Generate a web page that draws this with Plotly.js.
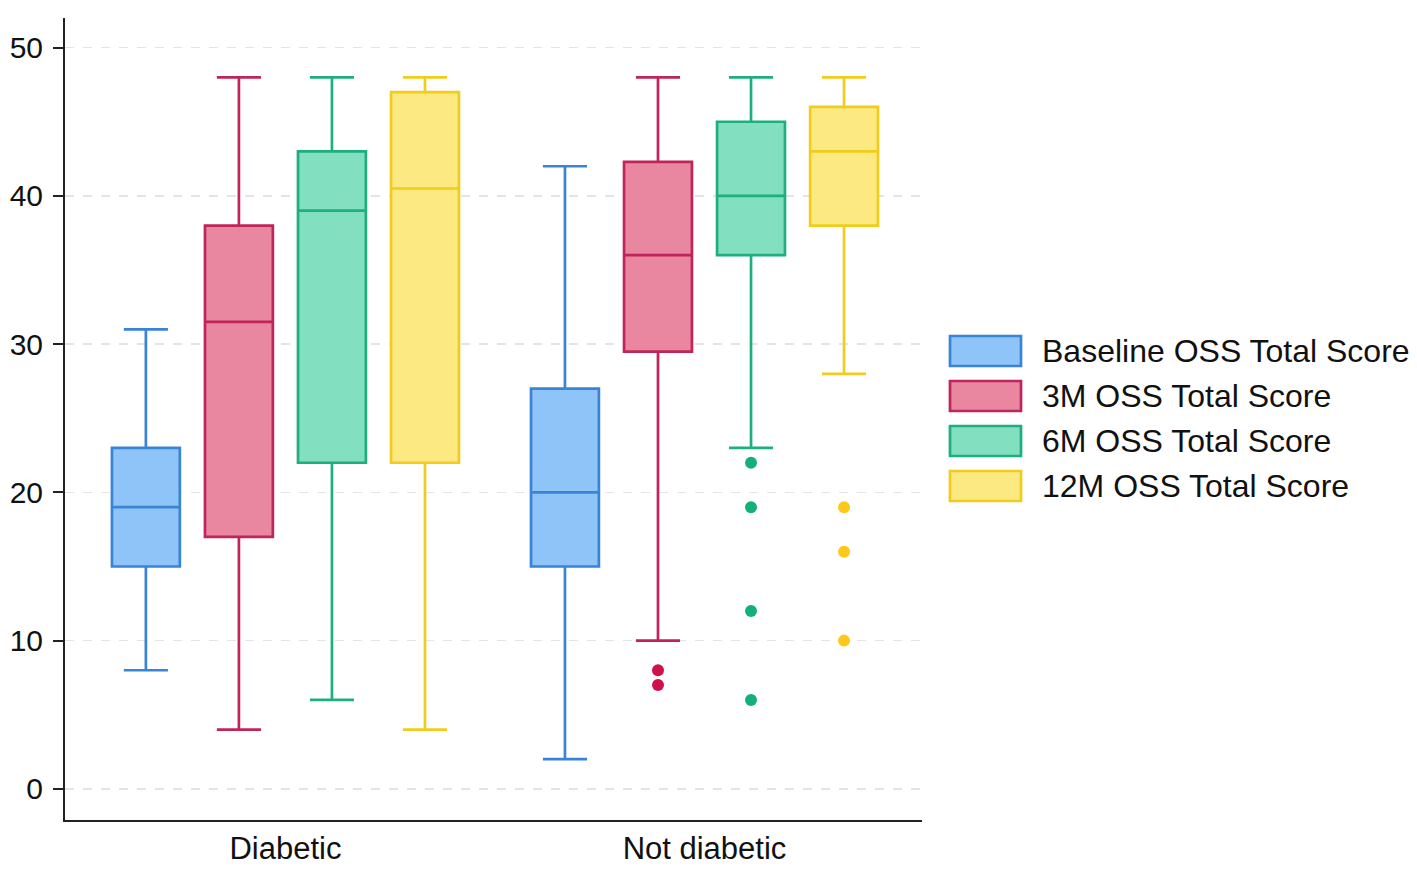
<!DOCTYPE html>
<html>
<head>
<meta charset="utf-8">
<script src="https://cdn.plot.ly/plotly-3.0.1.min.js"></script>
<style>body{margin:0;background:#fff}</style>
</head>
<body>
<div id="chart" style="width:1417px;height:871px"></div>
<script>
// data
var groups = ['Diabetic', 'Not diabetic'];
var series = ['Baseline OSS Total Score', '3M OSS Total Score', '6M OSS Total Score', '12M OSS Total Score'];
// each row is one series: [Diabetic, Not diabetic]
var lower  = [[8, 2],   [4, 10],    [6, 23],  [4, 28]];
var q1     = [[15, 15], [17, 29.5], [22, 36], [22, 38]];
var median = [[19, 20], [31.5, 36], [39, 40], [40.5, 43]];
var q3     = [[23, 27], [38, 42.3], [43, 45], [47, 46]];
var upper  = [[31, 42], [48, 48],   [48, 48], [48, 48]];
var outliers = [
    [[], []],
    [[], [8, 7]],
    [[], [22, 19, 12, 6]],
    [[], [19, 16, 10]]
];
var yticks = [0, 10, 20, 30, 40, 50];

// styles
var fills = ['#8fc4f8', '#e8879f', '#82dfc0', '#fde981'];
var lines = ['#3a84d8', '#c0245a', '#1fae80', '#f2cc1c'];
var dots  = ['#3a84d8', '#d0104a', '#14b077', '#fcc81a'];
var offsets = [-0.333, -0.111, 0.111, 0.333];
var boxWidth = 0.162;
var W = 1417, H = 871;
var M = {l: 65, r: 495, t: 18, b: 51};
var FONT = 'Liberation Sans, Arial, sans-serif';

var data = [];
for (var s = 0; s < series.length; s++) {
    var xs = [];
    for (var g = 0; g < groups.length; g++) xs.push(g + 1 + offsets[s]);
    data.push({
        type: 'box',
        name: series[s],
        x: xs,
        q1: q1[s],
        median: median[s],
        q3: q3[s],
        lowerfence: lower[s],
        upperfence: upper[s],
        width: boxWidth,
        whiskerwidth: 0.65,
        fillcolor: fills[s],
        line: {color: lines[s], width: 2.7},
        boxpoints: false,
        hoverinfo: 'y',
        showlegend: false
    });
    var ox = [], oy = [];
    for (var g = 0; g < groups.length; g++) {
        for (var k = 0; k < outliers[s][g].length; k++) {
            ox.push(g + 1 + offsets[s]);
            oy.push(outliers[s][g][k]);
        }
    }
    if (oy.length) {
        data.push({
            type: 'scatter', mode: 'markers',
            x: ox, y: oy,
            marker: {color: dots[s], size: 12},
            showlegend: false, hoverinfo: 'y'
        });
    }
}

// legend drawn as shapes + text (wide swatches like the original)
var pw = W - M.l - M.r, ph = H - M.t - M.b;
function px2x(px) { return (px - M.l) / pw; }
function px2y(py) { return (H - M.b - py) / ph; }
var shapes = [], annotations = [];
var legTop = 351, legStep = 45;
for (var s = 0; s < series.length; s++) {
    var cy = legTop + s * legStep;
    shapes.push({
        type: 'rect', xref: 'paper', yref: 'paper',
        x0: px2x(950), x1: px2x(1021), y0: px2y(cy + 15), y1: px2y(cy - 15),
        fillcolor: fills[s], line: {color: lines[s], width: 2.7}
    });
    annotations.push({
        xref: 'paper', yref: 'paper', x: px2x(1040), y: px2y(cy),
        xanchor: 'left', yanchor: 'middle', showarrow: false,
        text: series[s], font: {family: FONT, size: 32, color: '#111'}
    });
}

var layout = {
    width: W, height: H,
    margin: M,
    paper_bgcolor: '#fff', plot_bgcolor: '#fff',
    showlegend: false,
    xaxis: {
        range: [0.474, 2.519],
        tickvals: [1, 2], ticktext: groups,
        ticks: '', showgrid: false, zeroline: false,
        showline: true, linecolor: '#222', linewidth: 2,
        tickfont: {family: FONT, size: 31, color: '#111'},
        ticklabelstandoff: 0
    },
    yaxis: {
        range: [-2.1, 52],
        tickvals: yticks,
        ticks: 'outside', ticklen: 10, tickwidth: 2, tickcolor: '#222',
        showgrid: true, gridcolor: '#e4e4e4', gridwidth: 1.5, griddash: 'dash',
        zeroline: false,
        showline: true, linecolor: '#222', linewidth: 2,
        tickfont: {family: FONT, size: 30, color: '#111'},
        ticklabelstandoff: 4
    },
    shapes: shapes,
    annotations: annotations
};

Plotly.newPlot('chart', data, layout, {displayModeBar: false, staticPlot: true});
</script>
</body>
</html>
